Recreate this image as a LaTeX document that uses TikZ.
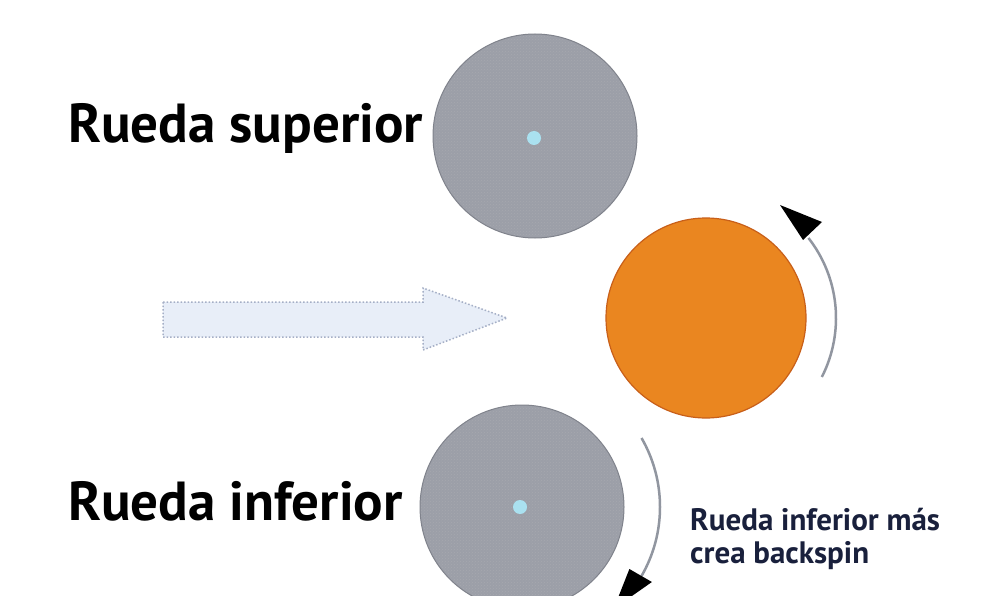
\documentclass[tikz,border=0pt]{standalone}
\usepackage{fontspec}
\setmainfont{PT Sans}
\usetikzlibrary{patterns}
\definecolor{wheelgray}{RGB}{156,159,168}
\definecolor{wheeledge}{RGB}{128,131,140}
\definecolor{hubblue}{RGB}{170,225,240}
\definecolor{ballorange}{RGB}{234,134,32}
\definecolor{balledge}{RGB}{200,95,25}
\definecolor{arrowfill}{RGB}{232,238,248}
\definecolor{arrowedge}{RGB}{165,175,198}
\definecolor{arcgray}{RGB}{145,150,160}
\definecolor{navy}{RGB}{25,32,60}
\tikzset{
  wheel/.style={circle, draw=wheeledge, line width=1pt, fill=wheelgray, minimum size=204pt, inner sep=0pt},
  hub/.style={circle, fill=hubblue, minimum size=14pt, inner sep=0pt},
  ball/.style={circle, draw=balledge, line width=1.2pt, fill=ballorange, minimum size=200pt, inner sep=0pt},
  biglabel/.style={anchor=base west, inner sep=0pt, font=\fontsize{55}{60}\selectfont\bfseries, text=black},
  smalllabel/.style={anchor=base west, inner sep=0pt, align=left, font=\fontsize{31}{33}\selectfont\bfseries, text=navy},
  spinarc/.style={draw=arcgray, line width=2.5pt},
  tiphead/.style={fill=black}
}
\begin{document}
\begin{tikzpicture}[x=1pt,y=-1pt]
\useasboundingbox[fill=white] (0,0) rectangle (985,596);
% wheels
\node[wheel] (top) at (535,136) {};
\fill[pattern=crosshatch dots, pattern color=wheeledge!70] (top.center) circle (101pt);
\node[hub] (tophub) at (534,138) {};
\node[wheel] (bot) at (522,507) {};
\fill[pattern=crosshatch dots, pattern color=wheeledge!70] (bot.center) circle (101pt);
\node[hub] (bothub) at (520,507) {};
% ball
\node[ball] (ball) at (706,318) {};
% feed arrow
\filldraw[fill=arrowfill, draw=arrowedge, line width=1.5pt, dotted]
  (163,302) -- (423,302) -- (423,288) -- (507,318) -- (423,350) -- (423,337) -- (163,337) -- cycle;
% spin arcs
\draw[spinarc] (ball.center) ++(27:130) arc[start angle=27, end angle=-38, radius=130];
\fill[tiphead] (780,205) -- (822,222) -- (803,240) -- cycle;
\draw[spinarc] (bot.center) ++(-30:138) arc[start angle=-30, end angle=30, radius=138];
\path (bot.center) ++(30:150) coordinate (b1);
\path (bot.center) ++(30:124) coordinate (b2);
\path (bot.center) ++(48:137) coordinate (b3);
\fill[tiphead] (b1) -- (b2) -- (b3) -- cycle;
% labels
\node[biglabel] (lsup) at (68,143) {Rueda superior};
\node[biglabel] (linf) at (68,520) {Rueda inferior};
\node[smalllabel] (lnote) at (690,563) {Rueda inferior más\\crea backspin};
\end{tikzpicture}
\end{document}
